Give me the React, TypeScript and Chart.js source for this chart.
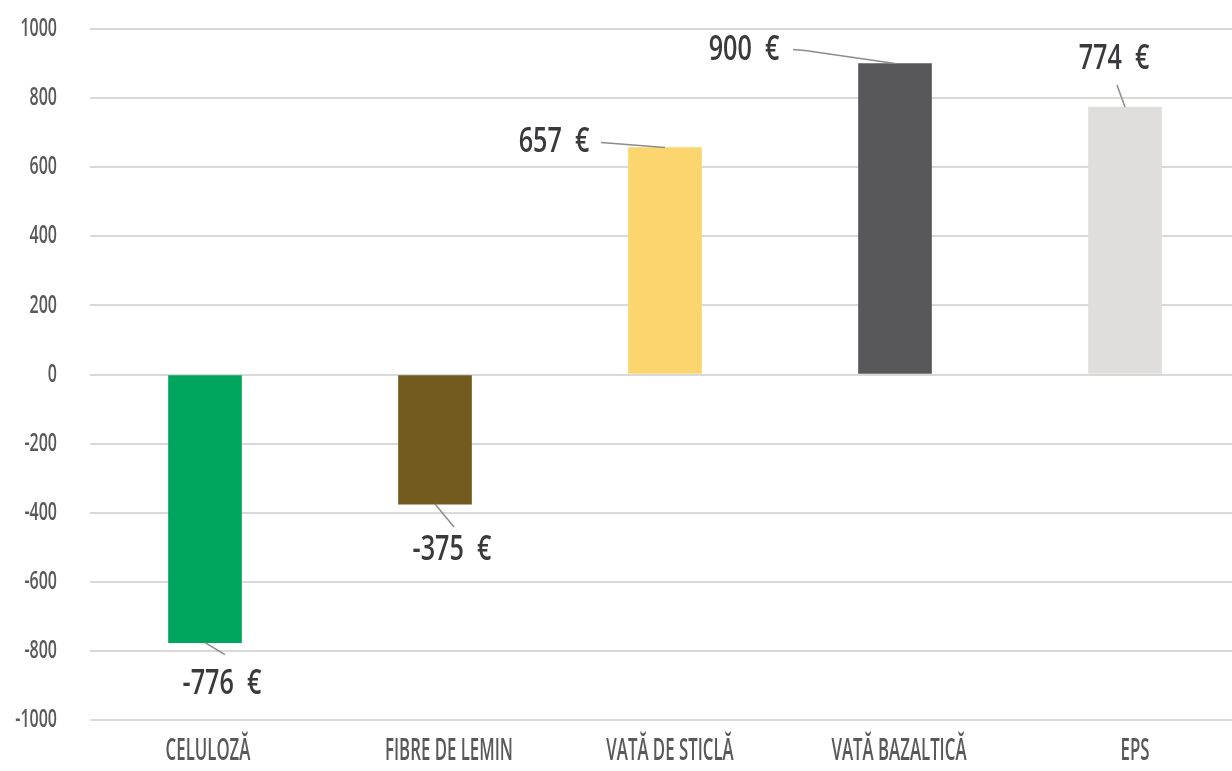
import React, { useEffect, useRef } from "react";
import { Chart, registerables } from "chart.js";

Chart.register(...registerables);

const categories = ["CELULOZĂ", "FIBRE DE LEMIN", "VATĂ DE STICLĂ", "VATĂ BAZALTICĂ", "EPS"];
const values = [-776, -375, 657, 900, 774];
const barColors = ["#00A65D", "#735A1E", "#FBD56D", "#58585A", "#DFDEDC"];
const yTicks = [-1000, -800, -600, -400, -200, 0, 200, 400, 600, 800, 1000];

// label placement relative to bar end (pixels): label centre and leader-line points
const labelDx = [17, 17, -111, -151, -11];
const labelDy = [41, 46, -5, -14, -48];
const lineEnd: [number, number][][] = [
  [[20, 12]],
  [[19, 23]],
  [[-64, -5]],
  [[-90, -13], [-102, -14]],
  [[-8, -22]],
];
// horizontal nudge of category labels (pixels)
const catLabelDx = [3, 14, 5, 4, 10];

const FONT = "'Open Sans', 'DejaVu Sans', sans-serif";

function drawCondensed(ctx: any, text: string, x: number, y: number, sx: number, align: string) {
  ctx.save();
  ctx.textAlign = align;
  ctx.textBaseline = "middle";
  ctx.scale(sx, 1);
  ctx.fillText(text, x / sx, y);
  ctx.restore();
}

const customText = {
  id: "customText",
  afterDraw(chart: any) {
    const ctx = chart.ctx;
    const xs = chart.scales.x;
    const ys = chart.scales.y;
    ctx.save();
    ctx.fillStyle = "#595959";
    ctx.font = `600 25px ${FONT}`;
    ys.ticks.forEach((t: any) => {
      drawCondensed(ctx, String(t.value), ys.right - 33, ys.getPixelForValue(t.value), 0.64, "right");
    });
    ctx.font = `600 30px ${FONT}`;
    categories.forEach((c, i) => {
      drawCondensed(ctx, c, xs.getPixelForTick(i) + catLabelDx[i], xs.top + 31, 0.56, "center");
    });
    ctx.restore();
  },
  afterDatasetsDraw(chart: any) {
    const ctx = chart.ctx;
    const meta = chart.getDatasetMeta(0);
    meta.data.forEach((el: any, i: number) => {
      const x = el.x;
      const y = el.y;
      ctx.save();
      ctx.strokeStyle = "#8C8C8C";
      ctx.lineWidth = 1.5;
      ctx.beginPath();
      ctx.moveTo(x, y);
      lineEnd[i].forEach(([dx, dy]) => ctx.lineTo(x + dx, y + dy));
      ctx.stroke();
      ctx.fillStyle = "#3A3A3C";
      ctx.font = `600 35px ${FONT}`;
      drawCondensed(ctx, `${values[i]}  €`, x + labelDx[i], y + labelDy[i], 0.72, "center");
      ctx.restore();
    });
  },
};

export default function App() {
  const ref = useRef<HTMLCanvasElement | null>(null);
  useEffect(() => {
    if (!ref.current) return;
    const chart = new Chart(ref.current, {
      type: "bar",
      data: {
        labels: categories,
        datasets: [
          {
            data: values,
            backgroundColor: barColors,
            barThickness: 73,
          },
        ],
      },
      options: {
        animation: false,
        responsive: false,
        maintainAspectRatio: false,
        layout: { padding: { top: 29, right: 0, bottom: 0, left: 0 } },
        plugins: { legend: { display: false }, tooltip: { enabled: false } },
        scales: {
          x: {
            grid: { display: false, drawTicks: false },
            border: { display: false },
            ticks: { display: false },
            afterFit: (s: any) => {
              s.height = 51;
            },
          },
          y: {
            min: -1000,
            max: 1000,
            afterBuildTicks: (s: any) => {
              s.ticks = yTicks.map((v) => ({ value: v }));
            },
            grid: { color: "#D9D9D9", lineWidth: 2, drawTicks: false },
            border: { display: false },
            ticks: { display: false },
            afterFit: (s: any) => {
              s.width = 90;
            },
          },
        },
      },
      plugins: [customText],
    });
    return () => chart.destroy();
  }, []);
  return (
    <div
      style={{
        position: "fixed",
        left: 0,
        top: 0,
        width: 1232,
        height: 771,
        overflow: "hidden",
        background: "#fff",
      }}
    >
      <canvas ref={ref} width={1240} height={771} style={{ display: "block" }} />
    </div>
  );
}
